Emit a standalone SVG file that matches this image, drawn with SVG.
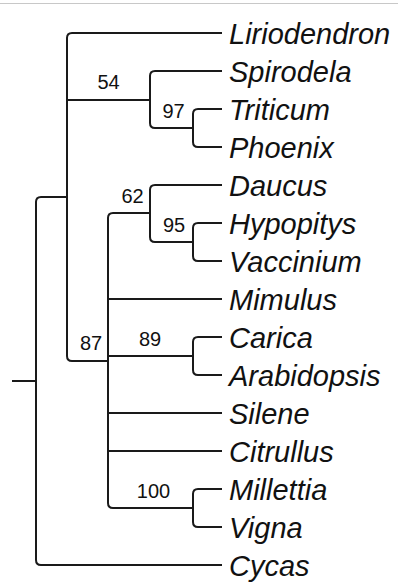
<svg xmlns="http://www.w3.org/2000/svg" width="398" height="587" viewBox="0 0 398 587">
<style>
.br{fill:none;stroke:#1a1a1a;stroke-width:2;stroke-linejoin:round}
.tx{font-family:"Liberation Sans",Arial,sans-serif;font-style:italic;font-size:29px;fill:#111}
.bs{font-family:"Liberation Sans",Arial,sans-serif;font-size:20px;fill:#111;text-anchor:middle}
</style>
<rect width="398" height="587" fill="#fff"/>
<line x1="0" y1="3.5" x2="398" y2="3.5" stroke="#c8c8c8" stroke-width="1"/>
<g id="connectors" class="br">
  <path d="M12 381 H36"/>
  <path d="M67 197 H41 Q36 197 36 202 V560 Q36 565 41 565 H222"/>
  <path d="M222 33 H72 Q67 33 67 38 V356 Q67 361 72 361 H108"/>
  <path d="M67 100 H150"/>
  <path d="M222 71 H155 Q150 71 150 76 V123 Q150 128 155 128 H193"/>
  <path d="M222 109 H198 Q193 109 193 114 V142 Q193 147 198 147 H222"/>
  <path d="M150 213 H113 Q108 213 108 218 V503 Q108 508 113 508 H193"/>
  <path d="M108 299 H222"/>
  <path d="M108 356 H193"/>
  <path d="M108 413 H222"/>
  <path d="M108 451 H222"/>
  <path d="M222 185 H155 Q150 185 150 190 V237 Q150 242 155 242 H193"/>
  <path d="M222 223 H198 Q193 223 193 228 V256 Q193 261 198 261 H222"/>
  <path d="M222 337 H198 Q193 337 193 342 V370 Q193 375 198 375 H222"/>
  <path d="M222 489 H198 Q193 489 193 494 V522 Q193 527 198 527 H222"/>
</g>
<g id="Liriodendron"><text class="tx" x="229" y="44">Liriodendron</text></g>
<g id="Spirodela"><text class="tx" x="229" y="82">Spirodela</text></g>
<g id="Triticum"><text class="tx" x="229" y="120">Triticum</text></g>
<g id="Phoenix"><text class="tx" x="229" y="158">Phoenix</text></g>
<g id="Daucus"><text class="tx" x="229" y="196">Daucus</text></g>
<g id="Hypopitys"><text class="tx" x="229" y="234">Hypopitys</text></g>
<g id="Vaccinium"><text class="tx" x="229" y="272">Vaccinium</text></g>
<g id="Mimulus"><text class="tx" x="229" y="310">Mimulus</text></g>
<g id="Carica"><text class="tx" x="229" y="348">Carica</text></g>
<g id="Arabidopsis"><text class="tx" x="229" y="386">Arabidopsis</text></g>
<g id="Silene"><text class="tx" x="229" y="424">Silene</text></g>
<g id="Citrullus"><text class="tx" x="229" y="462">Citrullus</text></g>
<g id="Millettia"><text class="tx" x="229" y="500">Millettia</text></g>
<g id="Vigna"><text class="tx" x="229" y="538">Vigna</text></g>
<g id="Cycas"><text class="tx" x="229" y="576">Cycas</text></g>
<g id="node54"><text class="bs" x="108.5" y="89">54</text></g>
<g id="node97"><text class="bs" x="173.5" y="118">97</text></g>
<g id="node62"><text class="bs" x="132.5" y="203">62</text></g>
<g id="node95"><text class="bs" x="174" y="232">95</text></g>
<g id="node87"><text class="bs" x="91" y="350">87</text></g>
<g id="node89"><text class="bs" x="150" y="346">89</text></g>
<g id="node100"><text class="bs" x="153.5" y="498">100</text></g>
</svg>
